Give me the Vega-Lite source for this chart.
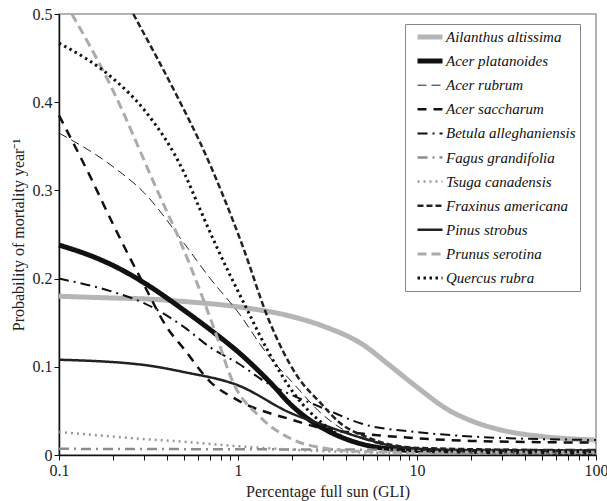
{
  "$schema": "https://vega.github.io/schema/vega-lite/v6.json",
  "width": 537,
  "height": 441,
  "autosize": {"type": "none"},
  "padding": {"left": 59, "top": 14, "right": 11, "bottom": 46},
  "background": "white",
  "config": {
    "view": {"stroke": "#999", "strokeWidth": 1.5},
    "axis": {"labelFontSize": 16, "titleFontSize": 16, "labelColor": "#222", "titleColor": "#222", "titleFontWeight": "normal", "domainColor": "#111", "domainWidth": 1.5, "tickColor": "#111", "grid": false}
  },
  "datasets": {
    "curves": [
      {"s": "Ailanthus altissima", "g": 0.1, "p": 0.180},
      {"s": "Ailanthus altissima", "g": 0.2, "p": 0.178},
      {"s": "Ailanthus altissima", "g": 0.3, "p": 0.177},
      {"s": "Ailanthus altissima", "g": 0.5, "p": 0.174},
      {"s": "Ailanthus altissima", "g": 1, "p": 0.168},
      {"s": "Ailanthus altissima", "g": 2, "p": 0.157},
      {"s": "Ailanthus altissima", "g": 3, "p": 0.146},
      {"s": "Ailanthus altissima", "g": 5, "p": 0.125},
      {"s": "Ailanthus altissima", "g": 7, "p": 0.102},
      {"s": "Ailanthus altissima", "g": 10, "p": 0.077},
      {"s": "Ailanthus altissima", "g": 15, "p": 0.051},
      {"s": "Ailanthus altissima", "g": 20, "p": 0.039},
      {"s": "Ailanthus altissima", "g": 30, "p": 0.028},
      {"s": "Ailanthus altissima", "g": 50, "p": 0.021},
      {"s": "Ailanthus altissima", "g": 100, "p": 0.017},

      {"s": "Acer platanoides", "g": 0.1, "p": 0.238},
      {"s": "Acer platanoides", "g": 0.15, "p": 0.226},
      {"s": "Acer platanoides", "g": 0.2, "p": 0.215},
      {"s": "Acer platanoides", "g": 0.3, "p": 0.195},
      {"s": "Acer platanoides", "g": 0.5, "p": 0.164},
      {"s": "Acer platanoides", "g": 0.7, "p": 0.142},
      {"s": "Acer platanoides", "g": 1, "p": 0.117},
      {"s": "Acer platanoides", "g": 1.5, "p": 0.083},
      {"s": "Acer platanoides", "g": 2, "p": 0.056},
      {"s": "Acer platanoides", "g": 2.5, "p": 0.040},
      {"s": "Acer platanoides", "g": 3, "p": 0.030},
      {"s": "Acer platanoides", "g": 5, "p": 0.012},
      {"s": "Acer platanoides", "g": 7, "p": 0.007},
      {"s": "Acer platanoides", "g": 10, "p": 0.005},
      {"s": "Acer platanoides", "g": 100, "p": 0.003},

      {"s": "Acer rubrum", "g": 0.1, "p": 0.365},
      {"s": "Acer rubrum", "g": 0.2, "p": 0.327},
      {"s": "Acer rubrum", "g": 0.3, "p": 0.297},
      {"s": "Acer rubrum", "g": 0.5, "p": 0.240},
      {"s": "Acer rubrum", "g": 0.7, "p": 0.200},
      {"s": "Acer rubrum", "g": 1, "p": 0.162},
      {"s": "Acer rubrum", "g": 1.5, "p": 0.111},
      {"s": "Acer rubrum", "g": 2, "p": 0.083},
      {"s": "Acer rubrum", "g": 3, "p": 0.045},
      {"s": "Acer rubrum", "g": 5, "p": 0.018},
      {"s": "Acer rubrum", "g": 10, "p": 0.007},
      {"s": "Acer rubrum", "g": 100, "p": 0.004},

      {"s": "Acer saccharum", "g": 0.1, "p": 0.385},
      {"s": "Acer saccharum", "g": 0.15, "p": 0.315},
      {"s": "Acer saccharum", "g": 0.2, "p": 0.262},
      {"s": "Acer saccharum", "g": 0.3, "p": 0.192},
      {"s": "Acer saccharum", "g": 0.4, "p": 0.145},
      {"s": "Acer saccharum", "g": 0.5, "p": 0.120},
      {"s": "Acer saccharum", "g": 0.7, "p": 0.083},
      {"s": "Acer saccharum", "g": 1, "p": 0.062},
      {"s": "Acer saccharum", "g": 2, "p": 0.040},
      {"s": "Acer saccharum", "g": 3, "p": 0.030},
      {"s": "Acer saccharum", "g": 5, "p": 0.024},
      {"s": "Acer saccharum", "g": 10, "p": 0.019},
      {"s": "Acer saccharum", "g": 20, "p": 0.016},
      {"s": "Acer saccharum", "g": 100, "p": 0.014},

      {"s": "Betula alleghaniensis", "g": 0.1, "p": 0.200},
      {"s": "Betula alleghaniensis", "g": 0.2, "p": 0.185},
      {"s": "Betula alleghaniensis", "g": 0.3, "p": 0.172},
      {"s": "Betula alleghaniensis", "g": 0.5, "p": 0.145},
      {"s": "Betula alleghaniensis", "g": 0.7, "p": 0.122},
      {"s": "Betula alleghaniensis", "g": 1, "p": 0.104},
      {"s": "Betula alleghaniensis", "g": 1.5, "p": 0.080},
      {"s": "Betula alleghaniensis", "g": 2, "p": 0.068},
      {"s": "Betula alleghaniensis", "g": 3, "p": 0.053},
      {"s": "Betula alleghaniensis", "g": 5, "p": 0.035},
      {"s": "Betula alleghaniensis", "g": 10, "p": 0.026},
      {"s": "Betula alleghaniensis", "g": 20, "p": 0.021},
      {"s": "Betula alleghaniensis", "g": 50, "p": 0.018},
      {"s": "Betula alleghaniensis", "g": 100, "p": 0.017},

      {"s": "Fagus grandifolia", "g": 0.1, "p": 0.007},
      {"s": "Fagus grandifolia", "g": 1, "p": 0.0065},
      {"s": "Fagus grandifolia", "g": 10, "p": 0.006},
      {"s": "Fagus grandifolia", "g": 100, "p": 0.006},

      {"s": "Tsuga canadensis", "g": 0.1, "p": 0.026},
      {"s": "Tsuga canadensis", "g": 0.2, "p": 0.021},
      {"s": "Tsuga canadensis", "g": 0.3, "p": 0.018},
      {"s": "Tsuga canadensis", "g": 0.5, "p": 0.015},
      {"s": "Tsuga canadensis", "g": 1, "p": 0.010},
      {"s": "Tsuga canadensis", "g": 2, "p": 0.006},
      {"s": "Tsuga canadensis", "g": 5, "p": 0.003},
      {"s": "Tsuga canadensis", "g": 10, "p": 0.002},
      {"s": "Tsuga canadensis", "g": 100, "p": 0.002},

      {"s": "Fraxinus americana", "g": 0.26, "p": 0.500},
      {"s": "Fraxinus americana", "g": 0.475, "p": 0.400},
      {"s": "Fraxinus americana", "g": 0.615, "p": 0.354},
      {"s": "Fraxinus americana", "g": 1.07, "p": 0.235},
      {"s": "Fraxinus americana", "g": 1.46, "p": 0.157},
      {"s": "Fraxinus americana", "g": 2.15, "p": 0.089},
      {"s": "Fraxinus americana", "g": 2.89, "p": 0.059},
      {"s": "Fraxinus americana", "g": 3.73, "p": 0.036},
      {"s": "Fraxinus americana", "g": 5.3, "p": 0.020},
      {"s": "Fraxinus americana", "g": 10, "p": 0.008},
      {"s": "Fraxinus americana", "g": 100, "p": 0.005},

      {"s": "Pinus strobus", "g": 0.1, "p": 0.108},
      {"s": "Pinus strobus", "g": 0.3, "p": 0.102},
      {"s": "Pinus strobus", "g": 0.5, "p": 0.094},
      {"s": "Pinus strobus", "g": 1, "p": 0.079},
      {"s": "Pinus strobus", "g": 2, "p": 0.047},
      {"s": "Pinus strobus", "g": 3, "p": 0.034},
      {"s": "Pinus strobus", "g": 5, "p": 0.019},
      {"s": "Pinus strobus", "g": 8, "p": 0.009},
      {"s": "Pinus strobus", "g": 20, "p": 0.005},
      {"s": "Pinus strobus", "g": 100, "p": 0.005},

      {"s": "Prunus serotina", "g": 0.118, "p": 0.500},
      {"s": "Prunus serotina", "g": 0.193, "p": 0.420},
      {"s": "Prunus serotina", "g": 0.354, "p": 0.300},
      {"s": "Prunus serotina", "g": 0.49, "p": 0.236},
      {"s": "Prunus serotina", "g": 0.73, "p": 0.145},
      {"s": "Prunus serotina", "g": 0.94, "p": 0.082},
      {"s": "Prunus serotina", "g": 1.33, "p": 0.043},
      {"s": "Prunus serotina", "g": 2.05, "p": 0.017},
      {"s": "Prunus serotina", "g": 3, "p": 0.008},
      {"s": "Prunus serotina", "g": 5, "p": 0.004},
      {"s": "Prunus serotina", "g": 10, "p": 0.003},
      {"s": "Prunus serotina", "g": 100, "p": 0.003},

      {"s": "Quercus rubra", "g": 0.1, "p": 0.467},
      {"s": "Quercus rubra", "g": 0.2, "p": 0.427},
      {"s": "Quercus rubra", "g": 0.3, "p": 0.391},
      {"s": "Quercus rubra", "g": 0.5, "p": 0.320},
      {"s": "Quercus rubra", "g": 0.615, "p": 0.278},
      {"s": "Quercus rubra", "g": 0.76, "p": 0.236},
      {"s": "Quercus rubra", "g": 1.13, "p": 0.164},
      {"s": "Quercus rubra", "g": 1.46, "p": 0.119},
      {"s": "Quercus rubra", "g": 2.05, "p": 0.070},
      {"s": "Quercus rubra", "g": 3, "p": 0.035},
      {"s": "Quercus rubra", "g": 5, "p": 0.012},
      {"s": "Quercus rubra", "g": 10, "p": 0.005},
      {"s": "Quercus rubra", "g": 100, "p": 0.004}
    ]
  },
  "data": {"name": "curves"},
  "mark": {"type": "line", "interpolate": "monotone"},
  "encoding": {
    "x": {
      "field": "g", "type": "quantitative",
      "scale": {"type": "log", "domain": [0.1, 100], "nice": false},
      "axis": {
        "title": "Percentage full sun (GLI)",
        "labelFont": "serif",
        "titleFont": "serif",
        "values": [0.1, 0.2, 0.3, 0.4, 0.5, 0.6, 0.7, 0.8, 0.9, 1, 2, 3, 4, 5, 6, 7, 8, 9, 10, 20, 30, 40, 50, 60, 70, 80, 90, 100],
        "labelExpr": "indexof([0.1, 1, 10, 100], datum.value) >= 0 ? datum.label : ''",
        "format": "~g",
        "tickSize": 5,
        "labelPadding": 2,
        "titlePadding": 5,
        "labelFlush": false,
        "labelOverlap": false
      }
    },
    "y": {
      "field": "p", "type": "quantitative",
      "scale": {"domain": [0, 0.5], "nice": false},
      "axis": {
        "title": "Probability of mortality year⁻¹",
        "labelFont": "serif",
        "titleFont": "serif",
        "values": [0, 0.1, 0.2, 0.3, 0.4, 0.5],
        "format": "~g",
        "tickSize": 5,
        "labelPadding": 2,
        "titlePadding": 6
      }
    },
    "color": {
      "field": "s", "type": "nominal",
      "scale": {
        "domain": ["Ailanthus altissima", "Acer platanoides", "Acer rubrum", "Acer saccharum", "Betula alleghaniensis", "Fagus grandifolia", "Tsuga canadensis", "Fraxinus americana", "Pinus strobus", "Prunus serotina", "Quercus rubra"],
        "range": ["#b5b5b5", "#111111", "#222222", "#111111", "#111111", "#8c8c8c", "#999999", "#222222", "#222222", "#ababab", "#111111"]
      },
      "legend": {
        "title": null,
        "orient": "none",
        "legendX": 346,
        "legendY": 10,
        "symbolType": "stroke",
        "symbolSize": 625,
        "clipHeight": 18,
        "symbolOffset": 6,
        "labelFont": "serif",
        "labelFontStyle": "italic",
        "labelFontSize": 15,
        "labelColor": "#111",
        "labelOffset": 1,
        "rowPadding": 6.1,
        "padding": 4,
        "strokeColor": "#888",
        "fillColor": "white",
        "labelLimit": 300
      }
    },
    "strokeWidth": {
      "field": "s", "type": "nominal",
      "scale": {
        "type": "ordinal",
        "domain": ["Ailanthus altissima", "Acer platanoides", "Acer rubrum", "Acer saccharum", "Betula alleghaniensis", "Fagus grandifolia", "Tsuga canadensis", "Fraxinus americana", "Pinus strobus", "Prunus serotina", "Quercus rubra"],
        "range": [5, 5, 1, 2.5, 2, 2.5, 2.5, 2.5, 2.5, 3, 3]
      }
    },
    "strokeDash": {
      "field": "s", "type": "nominal",
      "scale": {
        "domain": ["Ailanthus altissima", "Acer platanoides", "Acer rubrum", "Acer saccharum", "Betula alleghaniensis", "Fagus grandifolia", "Tsuga canadensis", "Fraxinus americana", "Pinus strobus", "Prunus serotina", "Quercus rubra"],
        "range": [[1, 0], [1, 0], [9, 5], [9, 7], [10, 5, 2, 5], [10, 5, 2, 5], [2, 4], [6, 3], [1, 0], [9, 5], [2.5, 3.5]]
      }
    }
  }
}
